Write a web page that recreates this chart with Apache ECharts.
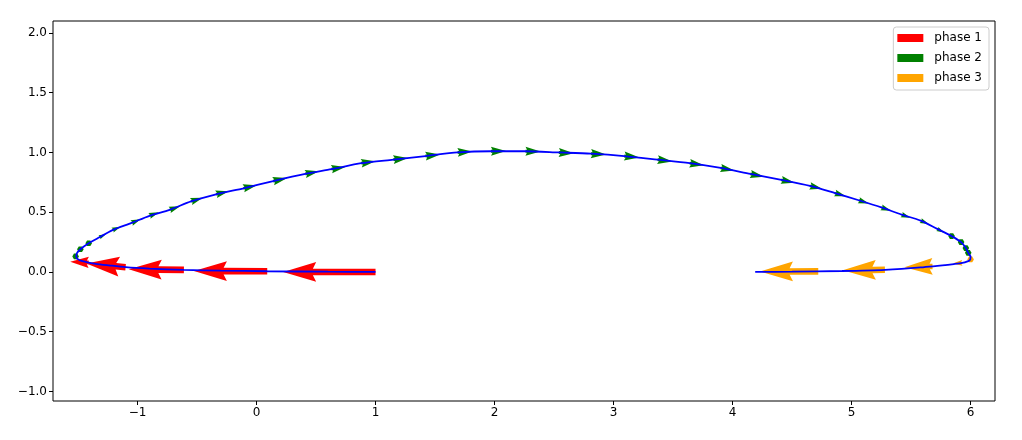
<!DOCTYPE html>
<html><head><meta charset="utf-8">
<script src="https://cdn.jsdelivr.net/npm/echarts@6/dist/echarts.min.js"></script>
<style>html,body{margin:0;padding:0;background:#fff}#chart{width:1022px;height:440px}</style>
</head><body><div id="chart"></div>
<script>
// ---- tick labels ----
const xTicks = [-1, 0, 1, 2, 3, 4, 5, 6];
const yTicks = [-1.0, -0.5, 0.0, 0.5, 1.0, 1.5, 2.0];
const seriesNames = ['phase 1', 'phase 2', 'phase 3'];

// ---- phase 1 arrows (tail x, tail y, u, v) ----
const phase1X = [1.00, 0.09, -0.61, -1.10, -1.41];
const phase1Y = [0.000, 0.006, 0.017, 0.040, 0.080];
const phase1U = [-0.776, -0.616, -0.464, -0.330, -0.155];
const phase1V = [0.000, 0.001, 0.006, 0.030, 0.005];

// ---- phase 2 arrows ----
const phase2X = [-1.52,-1.48,-1.41,-1.32,-1.21,-1.05,-0.90,-0.73,-0.55,-0.34,-0.11,0.14,0.41,0.63,0.88,1.15,1.42,1.69,1.97,2.26,2.54,2.81,3.09,3.37,3.64,3.90,4.15,4.41,4.65,4.86,5.06,5.25,5.42,5.58,5.72,5.84,5.92,5.96,5.98];
const phase2Y = [0.13,0.19,0.24,0.29,0.35,0.41,0.47,0.52,0.59,0.65,0.70,0.76,0.82,0.86,0.91,0.94,0.97,1.00,1.01,1.01,1.00,0.99,0.97,0.94,0.91,0.87,0.82,0.77,0.72,0.66,0.60,0.54,0.48,0.43,0.36,0.30,0.25,0.20,0.16];
const phase2U = [0.019,0.027,0.040,0.054,0.068,0.076,0.080,0.088,0.098,0.106,0.112,0.118,0.114,0.116,0.118,0.123,0.123,0.123,0.127,0.127,0.126,0.127,0.127,0.123,0.118,0.114,0.114,0.110,0.101,0.091,0.084,0.080,0.073,0.067,0.057,0.040,0.024,0.015,0.012];
const phase2V = [0.027,0.024,0.024,0.026,0.029,0.031,0.030,0.029,0.030,0.026,0.025,0.027,0.022,0.019,0.017,0.013,0.012,0.008,0.002,-0.002,-0.006,-0.008,-0.012,-0.015,-0.017,-0.021,-0.023,-0.023,-0.024,-0.027,-0.027,-0.027,-0.027,-0.029,-0.029,-0.024,-0.021,-0.019,-0.019];

// ---- phase 3 arrows ----
const phase3X = [6.00, 5.93, 5.68, 5.28, 4.72];
const phase3Y = [0.105, 0.075, 0.046, 0.018, 0.005];
const phase3U = [-0.035, -0.080, -0.236, -0.354, -0.490];
const phase3V = [-0.004, -0.005, -0.006, -0.004, -0.002];

// ---- trajectory line ----
const lineX = [1.00,0.60,0.09,-0.30,-0.61,-0.90,-1.10,-1.24,-1.35,-1.43,-1.49,-1.515,-1.51,-1.48,-1.41,-1.32,-1.21,-1.05,-0.90,-0.73,-0.55,-0.34,-0.11,0.14,0.41,0.63,0.88,1.15,1.42,1.69,1.97,2.26,2.54,2.81,3.09,3.37,3.64,3.90,4.15,4.41,4.65,4.86,5.06,5.25,5.42,5.58,5.72,5.84,5.92,5.96,5.98,6.00,5.99,5.93,5.86,5.58,5.28,4.92,4.50,4.19];
const lineY = [0.000,0.002,0.006,0.011,0.017,0.028,0.040,0.055,0.068,0.083,0.100,0.125,0.155,0.19,0.24,0.29,0.35,0.41,0.47,0.52,0.59,0.65,0.70,0.76,0.82,0.86,0.91,0.94,0.97,1.00,1.01,1.01,1.00,0.99,0.97,0.94,0.91,0.87,0.82,0.77,0.72,0.66,0.60,0.54,0.48,0.43,0.36,0.30,0.25,0.20,0.16,0.125,0.095,0.075,0.066,0.038,0.018,0.008,0.002,0.000];

const COLORS = ['#ff0000', '#008000', '#ffa500'];
const SHAFT = 6.6; // quiver shaft width in px

function makeArrow(color) {
  return function (params, api) {
    const x = api.value(0), y = api.value(1), u = api.value(2), v = api.value(3);
    const p0 = api.coord([x, y]);
    const p1 = api.coord([x + u, y + v]);
    const dx = p1[0] - p0[0], dy = p1[1] - p0[1];
    const L = Math.hypot(dx, dy);
    const Lw = L / SHAFT;
    let pts;
    if (Lw < 1) {
      pts = [];
      for (let k = 0; k < 6; k++) {
        const th = k * Math.PI / 3;
        pts.push([p0[0] + Math.cos(th) * 0.5 * SHAFT, p0[1] + Math.sin(th) * 0.5 * SHAFT]);
      }
    } else {
      let X, Y;
      if (Lw < 5) {
        const s = Lw / 5;
        X = [0, 0.5, 0, 5, 0, 0.5, 0].map(a => a * s);
        Y = [0.5, 0.5, 1.5, 0, -1.5, -0.5, -0.5].map(a => a * s);
      } else {
        X = [0, Lw - 4.5, Lw - 5, Lw, Lw - 5, Lw - 4.5, 0];
        Y = [0.5, 0.5, 1.5, 0, -1.5, -0.5, -0.5];
      }
      const ux = dx / L, uy = dy / L, nx = -uy, ny = ux;
      pts = X.map((a, i) => [p0[0] + (ux * a + nx * Y[i]) * SHAFT, p0[1] + (uy * a + ny * Y[i]) * SHAFT]);
    }
    return { type: 'polygon', shape: { points: pts }, style: { fill: color } };
  };
}

function rows(X, Y, U, V) { return X.map((x, i) => [x, Y[i], U[i], V[i]]); }
function fmt(v, dec) {
  const s = Math.abs(v).toFixed(dec);
  return v < 0 ? '\u2212' + s : s;
}

const FONT = 'DejaVu Sans';
const chart = echarts.init(document.getElementById('chart'));
const phases = [
  rows(phase1X, phase1Y, phase1U, phase1V),
  rows(phase2X, phase2Y, phase2U, phase2V),
  rows(phase3X, phase3Y, phase3U, phase3V)
];

chart.setOption({
  animation: false,
  backgroundColor: '#fff',
  grid: { left: 53, right: 27, top: 21, bottom: 39, show: true, borderColor: '#000', borderWidth: 1, backgroundColor: 'transparent' },
  legend: {
    data: seriesNames, orient: 'vertical', right: 33, top: 27,
    icon: 'rect', itemWidth: 26, itemHeight: 8, itemGap: 6,
    padding: [4, 7, 5, 4],
    borderColor: '#cccccc', borderWidth: 1, borderRadius: 3, backgroundColor: 'rgba(255,255,255,0.8)',
    textStyle: { fontFamily: FONT, fontSize: 12, color: '#000', lineHeight: 14, padding: [0, 0, 0, 6] }
  },
  xAxis: {
    type: 'value', min: -1.71, max: 6.205,
    axisLine: { show: false, onZero: false },
    splitLine: { show: false },
    axisTick: { show: true, customValues: xTicks, length: 4, lineStyle: { color: '#000', width: 1 } },
    axisLabel: { customValues: xTicks, formatter: v => fmt(v, 0), fontFamily: FONT, fontSize: 12, color: '#000', margin: 6 }
  },
  yAxis: {
    type: 'value', min: -1.08, max: 2.10,
    axisLine: { show: false, onZero: false },
    splitLine: { show: false },
    axisTick: { show: true, customValues: yTicks, length: 4, lineStyle: { color: '#000', width: 1 } },
    axisLabel: { customValues: yTicks, formatter: v => fmt(v, 1), fontFamily: FONT, fontSize: 12, color: '#000', margin: 6 }
  },
  series: [
    ...phases.map((d, i) => ({
      name: seriesNames[i], type: 'custom', data: d, encode: { x: 0, y: 1 },
      itemStyle: { color: COLORS[i] }, renderItem: makeArrow(COLORS[i]), z: 2, silent: true
    })),
    {
      name: 'trajectory', type: 'line', data: lineX.map((x, i) => [x, lineY[i]]),
      showSymbol: false, smooth: 0.25, z: 5, silent: true,
      lineStyle: { color: '#0000ff', width: 1.8 }
    }
  ]
});
</script>
</body></html>
